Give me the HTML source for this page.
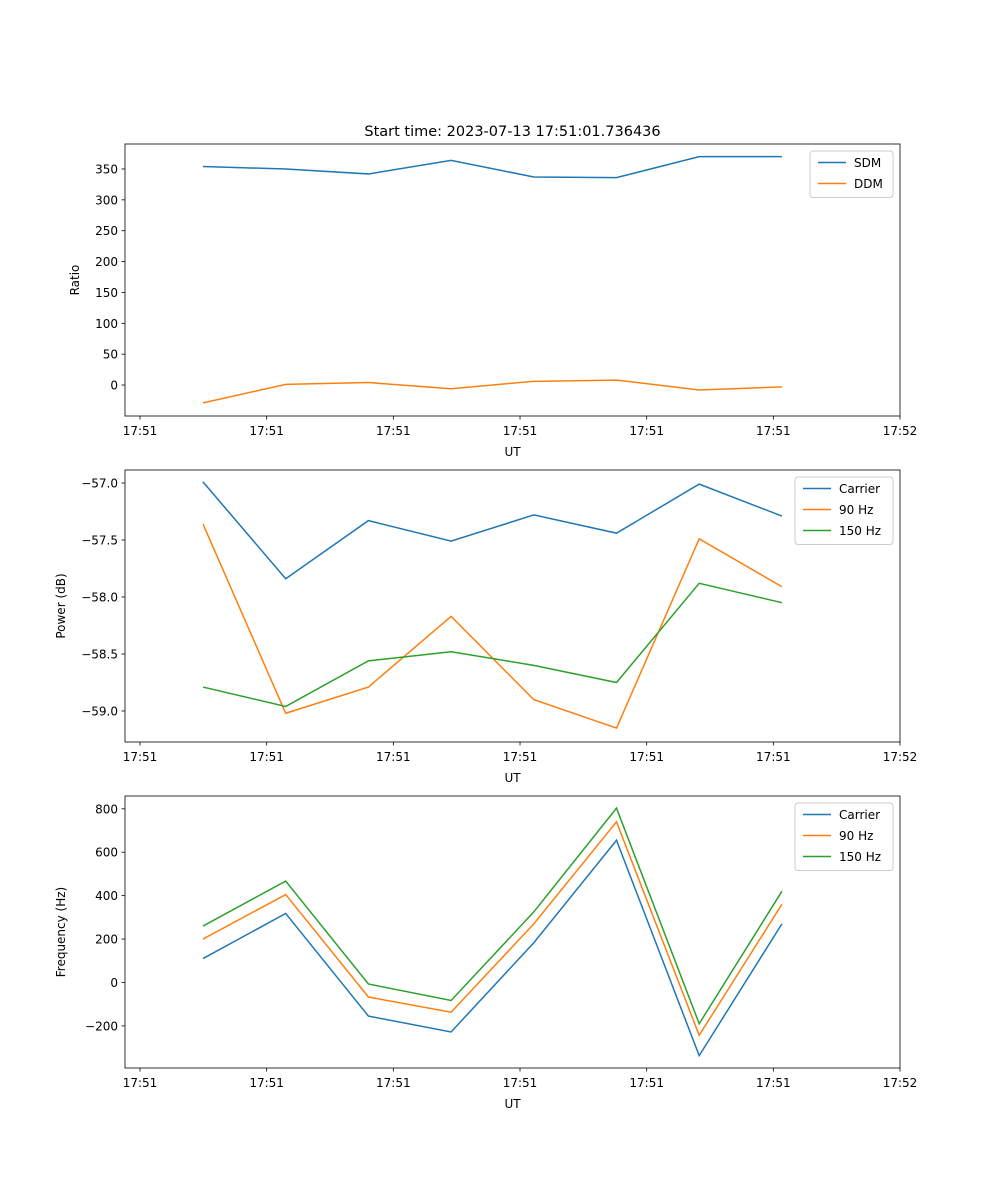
<!DOCTYPE html>
<html><head><meta charset="utf-8"><style>
body{margin:0;background:#fff}
svg{display:block;font-family:"DejaVu Sans","Liberation Sans",sans-serif}
</style></head><body>
<svg id="fig" width="1000" height="1200" viewBox="0 0 1000 1200" xmlns="http://www.w3.org/2000/svg">
<rect width="1000" height="1200" fill="#fff"/>
<text x="512.5" y="136" font-size="14.5" text-anchor="middle">Start time: 2023-07-13 17:51:01.736436</text>
</svg>
<script>
const xIdx = [0,1,2,3,4,5,6,7];
const xTickLabels = ["17:51","17:51","17:51","17:51","17:51","17:51","17:52"];
const sdm = [354,350,342,364,337,336,370,370];
const ddm = [-29,1,4,-6,6,8,-8,-3];
const pCarrier = [-56.99,-57.84,-57.33,-57.51,-57.28,-57.44,-57.01,-57.29];
const p90 = [-57.36,-59.02,-58.79,-58.17,-58.90,-59.15,-57.49,-57.91];
const p150 = [-58.79,-58.96,-58.56,-58.48,-58.60,-58.75,-57.88,-58.05];
const fCarrier = [110,318,-155,-228,183,655,-337,270];
const f90 = [200,405,-67,-137,270,740,-243,360];
const f150 = [260,467,-7,-83,325,803,-190,420];
const yTicks1 = [0,50,100,150,200,250,300,350];
const yTicks2 = [-59.0,-58.5,-58.0,-57.5,-57.0];
const yTicks3 = [-200,0,200,400,600,800];

const NS="http://www.w3.org/2000/svg";
const svg=document.getElementById('fig');
function mk(tag,attrs,parent){const e=document.createElementNS(NS,tag);for(const k in attrs)e.setAttribute(k,attrs[k]);(parent||svg).appendChild(e);return e;}
const L=125,R=900;
const xs=i=>203+i*82.7;
const C=['#1f77b4','#ff7f0e','#2ca02c'];

function panel(n,top,bot,ymin,ymax,ticks,fmt,ylabel,series,names,legW){
  const g=mk('g',{});
  
  
  const ys=v=>bot-(v-ymin)/(ymax-ymin)*(bot-top);
  ticks.forEach(t=>{
    const y=ys(t);
    const l=mk('line',{x1:L-3.5,x2:L,y1:y,y2:y,stroke:'#000','stroke-width':0.8},g);
    
    
    const tx=mk('text',{x:L-7,y:y+4.5,'font-size':12,'text-anchor':'end'},g);
    tx.textContent=fmt(t);
    
    
  });
  xTickLabels.forEach((lab,k)=>{
    const x=140+k*126.67;
    const l=mk('line',{x1:x,x2:x,y1:bot,y2:bot+3.5,stroke:'#000','stroke-width':0.8},g);
    
    
    const tx=mk('text',{x:x,y:bot+19,'font-size':12,'text-anchor':'middle'},g);
    tx.textContent=lab;
    
    
  });
  const xl=mk('text',{x:512.5,y:bot+40,'font-size':12,'text-anchor':'middle'},g);
  xl.textContent='UT';
  
  
  const yl=mk('text',{x:0,y:0,'font-size':12,'text-anchor':'middle',transform:`translate(${n==1?79:65},${(top+bot)/2}) rotate(-90)`},g);
  yl.textContent=ylabel;
  
  
  series.forEach((s,j)=>{
    const p=mk('polyline',{points:s.map((v,i)=>xs(xIdx[i])+','+ys(v)).join(' '),fill:'none',stroke:C[j],'stroke-width':1.5},g);
    
    
  });
  const fr=mk('rect',{x:L,y:top,width:R-L,height:bot-top,fill:'none',stroke:'#000','stroke-width':0.8},g);
  
  
  const lx=R-7-legW, ly=top+7;
  const lg=mk('g',{},g);
  
  
  mk('rect',{x:lx,y:ly,width:legW,height:4.5+names.length*21,rx:3,fill:'#fff','fill-opacity':0.8,stroke:'#ccc','stroke-width':1},lg);
  names.forEach((nm,j)=>{
    const yy=ly+11.5+j*21;
    mk('line',{x1:lx+8,x2:lx+36,y1:yy,y2:yy,stroke:C[j],'stroke-width':1.5},lg);
    const t=mk('text',{x:lx+44,y:yy+4.5,'font-size':12},lg);
    t.textContent=nm;
    
    
  });
}
panel(1,144,416,-50.2,390.5,yTicks1,v=>String(v),'Ratio',[sdm,ddm],['SDM','DDM'],83);
panel(2,470,742,-59.272,-56.886,yTicks2,v=>'\u2212'+Math.abs(v).toFixed(1),'Power (dB)',[pCarrier,p90,p150],['Carrier','90 Hz','150 Hz'],98);
panel(3,796,1068,-394,859,yTicks3,v=>v<0?'\u2212'+Math.abs(v):String(v),'Frequency (Hz)',[fCarrier,f90,f150],['Carrier','90 Hz','150 Hz'],98);
</script>
</body></html>
